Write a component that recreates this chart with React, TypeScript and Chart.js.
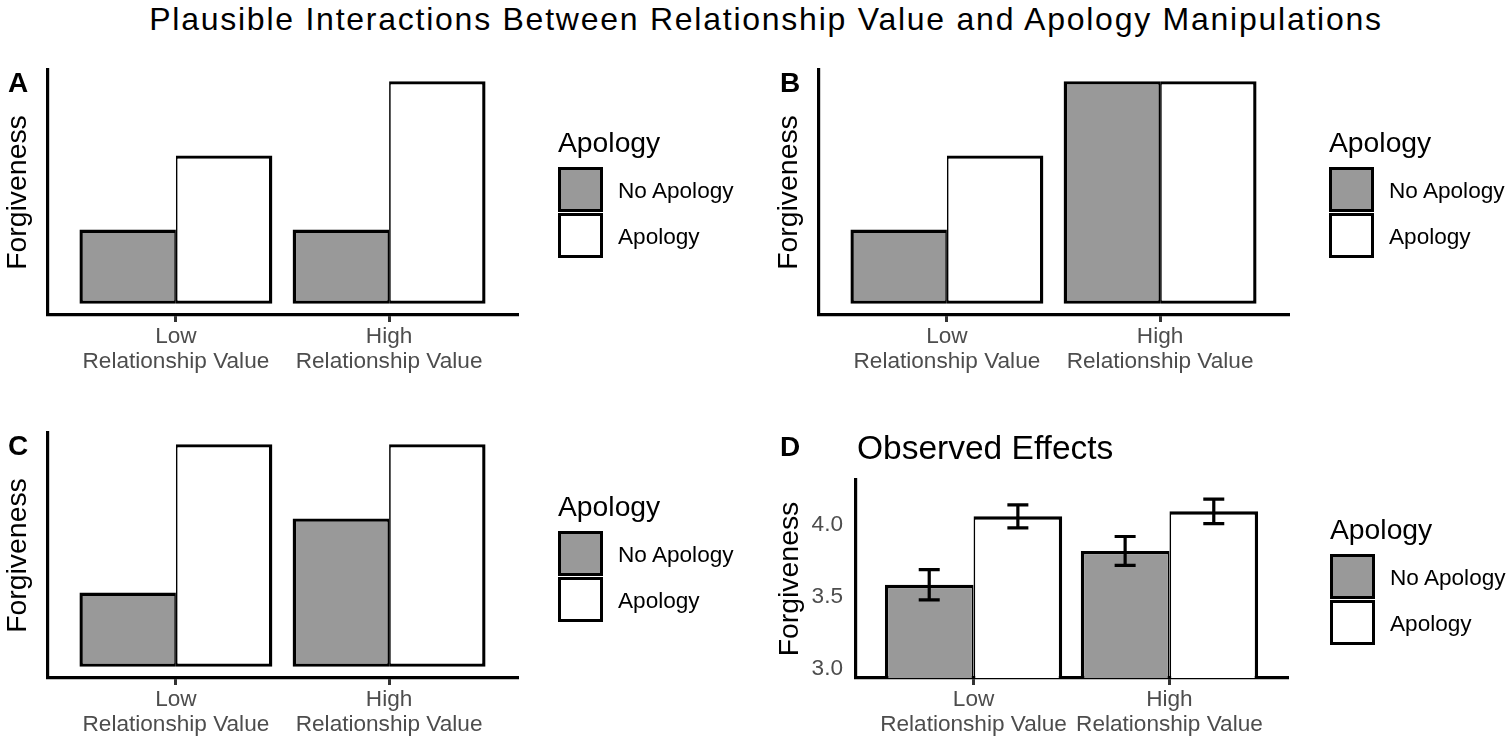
import React, { useEffect, useRef } from 'react';
import { Chart, registerables } from 'chart.js';

Chart.register(...registerables);

const FONT = '"Liberation Sans", Arial, Helvetica, sans-serif';
Chart.defaults.font.family = FONT;

// ---------- data ----------
const categoryLabels: string[][] = [
  ['Low', 'Relationship Value'],
  ['High', 'Relationship Value'],
];
const groupNames = ['No Apology', 'Apology'];
const groupFills = ['#999999', '#FFFFFF'];

const panelA_noApology = [1, 1];
const panelA_apology = [2, 3];

const panelB_noApology = [1, 3];
const panelB_apology = [2, 3];

const panelC_noApology = [1, 2];
const panelC_apology = [3, 3];

const panelD_noApology = [3.585, 3.82];
const panelD_apology = [4.06, 4.095];
const panelD_noApologyErr = [0.105, 0.1];
const panelD_apologyErr = [0.08, 0.085];
const panelD_yTicks = [3.0, 3.5, 4.0];

const mainTitle = 'Plausible Interactions Between Relationship Value and Apology Manipulations';
const panelDTitle = 'Observed Effects';
const yAxisTitle = 'Forgiveness';
const legendTitle = 'Apology';

// ---------- chart panel ----------
type PanelProps = {
  left: number;
  top: number;
  width: number;
  height: number;
  chartLeft: number;
  chartTop: number;
  chartRight: number;
  chartBottom: number;
  noApology: number[];
  apology: number[];
  yMin: number;
  yMax: number;
  yTicks?: number[];
  noApologyErr?: number[];
  apologyErr?: number[];
};

function BarPanel(p: PanelProps) {
  const ref = useRef<HTMLCanvasElement>(null);

  useEffect(() => {
    if (!ref.current) return;
    const errs = [p.noApologyErr, p.apologyErr];
    const errorBarPlugin = {
      id: 'errorBars',
      afterDatasetsDraw(chart: any) {
        if (!p.noApologyErr) return;
        const ctx = chart.ctx;
        const yScale = chart.scales.y;
        ctx.save();
        ctx.strokeStyle = '#000000';
        ctx.lineWidth = 3.2;
        ctx.lineCap = 'butt';
        chart.data.datasets.forEach((ds: any, di: number) => {
          const meta = chart.getDatasetMeta(di);
          const e = errs[di] || [];
          meta.data.forEach((el: any, i: number) => {
            const v = ds.data[i].y;
            const yHi = yScale.getPixelForValue(v + e[i]);
            const yLo = yScale.getPixelForValue(v - e[i]);
            const x = el.x;
            const hw = 10.5;
            ctx.beginPath();
            ctx.moveTo(x, yHi);
            ctx.lineTo(x, yLo);
            ctx.moveTo(x - hw, yHi);
            ctx.lineTo(x + hw, yHi);
            ctx.moveTo(x - hw, yLo);
            ctx.lineTo(x + hw, yLo);
            ctx.stroke();
          });
        });
        ctx.restore();
      },
    };

    const clip = { left: false, right: false, top: false, bottom: 0 } as any;
    const bw = 3.4;
    const chart = new Chart(ref.current, {
      type: 'bar',
      data: {
        datasets: [
          {
            label: groupNames[0],
            data: p.noApology.map((v, i) => ({ x: i + 1, y: v })),
            backgroundColor: groupFills[0],
            borderColor: '#000000',
            borderWidth: { left: bw, top: bw, bottom: bw, right: bw / 2 },
            borderSkipped: false,
            categoryPercentage: 0.905,
            barPercentage: 1,
            clip,
          },
          {
            label: groupNames[1],
            data: p.apology.map((v, i) => ({ x: i + 1, y: v })),
            backgroundColor: groupFills[1],
            borderColor: '#000000',
            borderWidth: { left: bw / 2, top: bw, bottom: bw, right: bw },
            borderSkipped: false,
            categoryPercentage: 0.905,
            barPercentage: 1,
            clip,
          },
        ] as any,
      },
      options: {
        animation: false,
        responsive: false,
        maintainAspectRatio: false,
        events: [],
        layout: {
          padding: { left: 0, top: p.chartTop, right: p.width - p.chartRight, bottom: 0 },
        },
        plugins: {
          legend: { display: false },
          tooltip: { enabled: false },
          title: { display: false },
        },
        scales: {
          x: {
            type: 'linear',
            min: 0.4,
            max: 2.6,
            offset: false,
            afterBuildTicks: (s: any) => {
              s.ticks = categoryLabels.map((_, i) => ({ value: i + 1 }));
            },
            afterFit: (s: any) => {
              s.height = p.height - p.chartBottom;
            },
            ticks: {
              autoSkip: false,
              maxRotation: 0,
              minRotation: 0,
              padding: 3,
              color: '#4D4D4D',
              font: { size: 22.6, lineHeight: 1.08, family: FONT },
              callback: (v: any) => categoryLabels[Math.round(Number(v)) - 1] || '',
            },
            grid: {
              display: true,
              drawOnChartArea: false,
              drawTicks: true,
              tickLength: 7,
              lineWidth: 3,
              color: '#333333',
              offset: false,
            },
            border: { display: true, color: '#000000', width: 3.2 },
          },
          y: {
            type: 'linear',
            min: p.yMin,
            max: p.yMax,
            beginAtZero: false,
            afterBuildTicks: (s: any) => {
              if (p.yTicks) s.ticks = p.yTicks.map((v) => ({ value: v }));
            },
            afterFit: (s: any) => {
              s.width = p.chartLeft;
            },
            ticks: {
              display: !!p.yTicks,
              padding: 13,
              color: '#4D4D4D',
              font: { size: 22.6, family: FONT },
              callback: (v: any) => Number(v).toFixed(1),
            },
            grid: { display: false, drawTicks: false, tickLength: 0 },
            border: { display: true, color: '#000000', width: 3.2 },
            title: {
              display: true,
              text: yAxisTitle,
              color: '#000000',
              font: { size: 28.4, family: FONT, lineHeight: 1.2 },
              padding: { top: 1.5, bottom: 0 },
            },
          },
        },
      } as any,
      plugins: [errorBarPlugin],
    });
    return () => chart.destroy();
  }, []);

  return (
    <canvas
      ref={ref}
      width={p.width}
      height={p.height}
      style={{ position: 'absolute', left: p.left, top: p.top, width: p.width, height: p.height }}
    />
  );
}

// ---------- text helpers ----------
function Txt(props: {
  x: number;
  cy: number;
  size: number;
  bold?: boolean;
  color?: string;
  center?: boolean;
  spacing?: number;
  children: React.ReactNode;
}) {
  return (
    <div
      style={{
        position: 'absolute',
        left: props.x,
        top: props.cy,
        transform: props.center ? 'translate(-50%, -50%)' : 'translateY(-50%)',
        fontSize: props.size,
        lineHeight: 1,
        fontFamily: FONT,
        fontWeight: props.bold ? 700 : 400,
        color: props.color || '#000000',
        whiteSpace: 'nowrap',
        letterSpacing: props.spacing || 0,
      }}
    >
      {props.children}
    </div>
  );
}

function Legend(props: { x: number; boxTop: number }) {
  const { x, boxTop } = props;
  const box = 45;
  const gap = 1;
  return (
    <>
      <Txt x={x} cy={boxTop - 25} size={28.3}>
        {legendTitle}
      </Txt>
      {groupNames.map((g, i) => {
        const top = boxTop + i * (box + gap);
        return (
          <React.Fragment key={g}>
            <div
              style={{
                position: 'absolute',
                left: x,
                top,
                width: box,
                height: box,
                boxSizing: 'border-box',
                border: '3.5px solid #000000',
                background: groupFills[i],
              }}
            />
            <Txt x={x + box + 15} cy={top + box / 2 + 1} size={22.6}>
              {g}
            </Txt>
          </React.Fragment>
        );
      })}
    </>
  );
}

export default function App() {
  const W = 560;
  return (
    <div
      style={{
        position: 'absolute',
        left: 0,
        top: 0,
        width: 1510,
        height: 742,
        overflow: 'hidden',
        background: '#ffffff',
      }}
    >
      <Txt x={766} cy={19} size={32} spacing={1.75} center>
        {mainTitle}
      </Txt>

      {/* Panel A */}
      <BarPanel
        left={0}
        top={55}
        width={W}
        height={330}
        chartLeft={48}
        chartTop={15}
        chartRight={517}
        chartBottom={260}
        noApology={panelA_noApology}
        apology={panelA_apology}
        yMin={-0.15}
        yMax={3.15}
      />
      <Txt x={8} cy={83} size={28} bold>
        A
      </Txt>
      <Legend x={558} boxTop={167} />

      {/* Panel B */}
      <BarPanel
        left={771}
        top={55}
        width={W}
        height={330}
        chartLeft={48}
        chartTop={15}
        chartRight={517}
        chartBottom={260}
        noApology={panelB_noApology}
        apology={panelB_apology}
        yMin={-0.15}
        yMax={3.15}
      />
      <Txt x={780} cy={83} size={28} bold>
        B
      </Txt>
      <Legend x={1329} boxTop={167} />

      {/* Panel C */}
      <BarPanel
        left={0}
        top={418}
        width={W}
        height={324}
        chartLeft={48}
        chartTop={15}
        chartRight={517}
        chartBottom={260}
        noApology={panelC_noApology}
        apology={panelC_apology}
        yMin={-0.15}
        yMax={3.15}
      />
      <Txt x={8} cy={446} size={28} bold>
        C
      </Txt>
      <Legend x={558} boxTop={531} />

      {/* Panel D */}
      <BarPanel
        left={772}
        top={418}
        width={W}
        height={324}
        chartLeft={84}
        chartTop={62}
        chartRight={515}
        chartBottom={260}
        noApology={panelD_noApology}
        apology={panelD_apology}
        noApologyErr={panelD_noApologyErr}
        apologyErr={panelD_apologyErr}
        yMin={2.9375}
        yMax={4.3125}
        yTicks={panelD_yTicks}
      />
      <Txt x={780} cy={447} size={28} bold>
        D
      </Txt>
      <Txt x={857} cy={448} size={33.5}>
        {panelDTitle}
      </Txt>
      <Legend x={1330} boxTop={554} />
    </div>
  );
}
